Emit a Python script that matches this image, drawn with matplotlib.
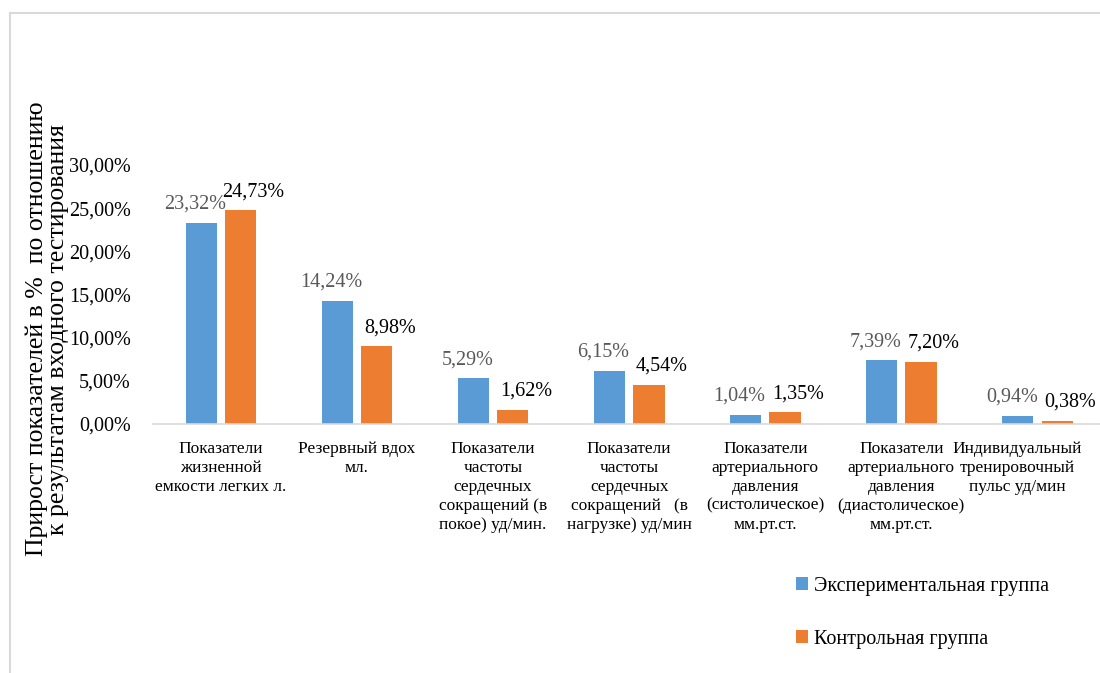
import matplotlib
matplotlib.use("Agg")
import matplotlib.pyplot as plt
import matplotlib.transforms as mtransforms
from matplotlib.lines import Line2D
import numpy as np

SERIF = "Liberation Serif"

categories = [
    "Показатели\nжизненной\nемкости легких л.",
    "Резервный вдох\nмл.",
    "Показатели\nчастоты\nсердечных\nсокращений (в\nпокое) уд/мин.",
    "Показатели\nчастоты\nсердечных\nсокращений   (в\nнагрузке) уд/мин",
    "Показатели\nартериального\nдавления\n(систолическое)\nмм.рт.ст.",
    "Показатели\nартериального\nдавления\n(диастолическое)\nмм.рт.ст.",
    "Индивидуальный\nтренировочный\nпульс уд/мин",
]
experimental = [23.32, 14.24, 5.29, 6.15, 1.04, 7.39, 0.94]
control = [24.73, 8.98, 1.62, 4.54, 1.35, 7.20, 0.38]
series_names = ["Экспериментальная группа", "Контрольная группа"]

C_BLUE = "#5B9BD5"; C_ORANGE = "#ED7D31"; GRID = "#D9D9D9"

fig = plt.figure(figsize=(11, 6.73), dpi=100)
ax = fig.add_axes([0.139, 0.370, 0.866, 0.385])

x = np.arange(len(categories))
w = 0.23; gap = 0.06
b1 = ax.bar(x - (w + gap) / 2, experimental, w, color=C_BLUE, label=series_names[0])
b2 = ax.bar(x + (w + gap) / 2, control, w, color=C_ORANGE, label=series_names[1])

def fmt(v):
    return f"{v:.2f}%".replace(".", ",")

# data labels: experimental in grey, control in black, nudged apart like in Excel
for bars, vals, col, dx in [(b1, experimental, "#595959", -6), (b2, control, "black", 13)]:
    for r, v in zip(bars, vals):
        ax.annotate(fmt(v), (r.get_x() + r.get_width() / 2, v), xytext=(dx, 9),
                    textcoords="offset pixels", ha="center", va="bottom",
                    fontsize=14.5, color=col, family=SERIF)

ax.set_xlim(-0.5, len(categories) - 0.5)
ax.set_ylim(0, 30)
ax.set_yticks(np.arange(0, 31, 5))
ax.set_yticklabels([fmt(v) for v in np.arange(0, 31, 5)], family=SERIF, fontsize=14.5)
ax.set_xticks(x)
ax.set_xticklabels(categories, fontsize=12.5, linespacing=1.25, family=SERIF)
ax.tick_params(axis="both", length=0)
ax.tick_params(axis="y", pad=16)
ax.tick_params(axis="x", pad=12)
last = ax.get_xticklabels()[-1]
last.set_transform(last.get_transform() + mtransforms.ScaledTranslation(-0.2, 0, fig.dpi_scale_trans))
for s in ["top", "right", "left"]:
    ax.spines[s].set_visible(False)
ax.spines["bottom"].set_color(GRID)
ax.spines["bottom"].set_linewidth(1.2)

fig.text(0.043, 0.511, "Прирост показателей в %  по отношению\nк результатам входного тестирования",
         rotation=90, ha="center", va="center", fontsize=18.5, linespacing=0.95, family=SERIF)

fig.legend(handles=[b1, b2], labels=series_names, loc="upper left",
           bbox_to_anchor=(0.707, 0.170), frameon=False, prop={"family": SERIF, "size": 14.5},
           handlelength=0.6, handleheight=0.6, handletextpad=0.3, labelspacing=1.7)

# outer chart frame (light gray)
fig.add_artist(Line2D([10 / 1100, 1], [1 - 13 / 673, 1 - 13 / 673], color=GRID, lw=1.5))
fig.add_artist(Line2D([10 / 1100, 10 / 1100], [0, 1 - 13 / 673], color=GRID, lw=1.5))

fig.savefig("out.png", dpi=100)
